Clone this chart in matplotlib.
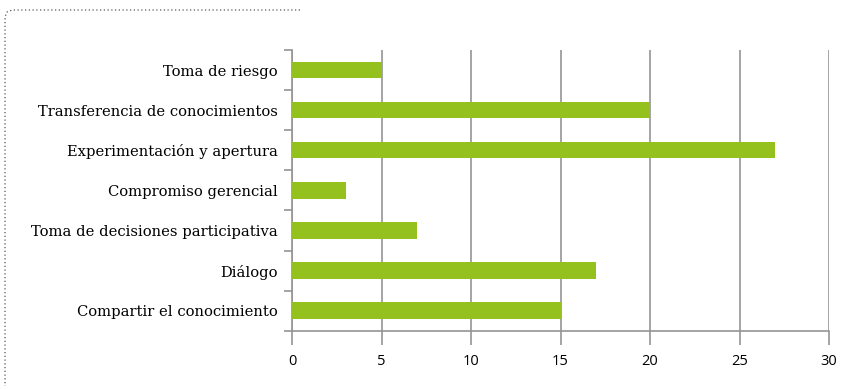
import matplotlib.pyplot as plt
from matplotlib.lines import Line2D
import numpy as np

categories = ["Toma de riesgo", "Transferencia de conocimientos",
              "Experimentación y apertura", "Compromiso gerencial",
              "Toma de decisiones participativa", "Diálogo",
              "Compartir el conocimiento"]
values = [5, 20, 27, 3, 7, 17, 15]
x_ticks = [0, 5, 10, 15, 20, 25, 30]

W, H = 864, 390
fig = plt.figure(figsize=(W / 100, H / 100), dpi=100)
ax = fig.add_axes([292 / W, 1 - 330.7 / H, (829 - 292) / W, (330.7 - 50) / H])

grey = "#959595"
y = np.arange(len(categories))
ax.barh(y, values, height=0.41, color="#95c11f", zorder=3)
ax.set_ylim(len(categories) - 0.5, -0.5)
ax.set_xlim(0, 30)

ax.set_xticks(x_ticks)
ax.set_xticklabels([str(t) for t in x_ticks], fontsize=10.5, family="Open Sans")
ax.tick_params(axis="x", length=10, width=1.2, color=grey, pad=6.5)
ax.xaxis.grid(True, color=grey, linewidth=1.2, zorder=0)

ax.set_yticks(y)
ax.set_yticklabels(categories, fontsize=10.6, family="DejaVu Serif")
ax.set_yticks(np.arange(len(categories) + 1) - 0.5, minor=True)
ax.tick_params(axis="y", which="major", length=0, pad=10)
ax.tick_params(axis="y", which="minor", length=6, width=1.2, color=grey)

for side in ["top", "right"]:
    ax.spines[side].set_visible(False)
for side in ["left", "bottom"]:
    ax.spines[side].set_color(grey)
    ax.spines[side].set_linewidth(1.2)

# dotted frame in the top-left corner
px = [300, 12, 7, 5, 5]
py = [10, 10, 12, 17, 386]
fig.add_artist(Line2D([p / W for p in px], [1 - p / H for p in py],
                      transform=fig.transFigure, color="#555555",
                      linestyle=(0, (1, 2)), linewidth=0.9))

fig.savefig("out.png", dpi=100)
